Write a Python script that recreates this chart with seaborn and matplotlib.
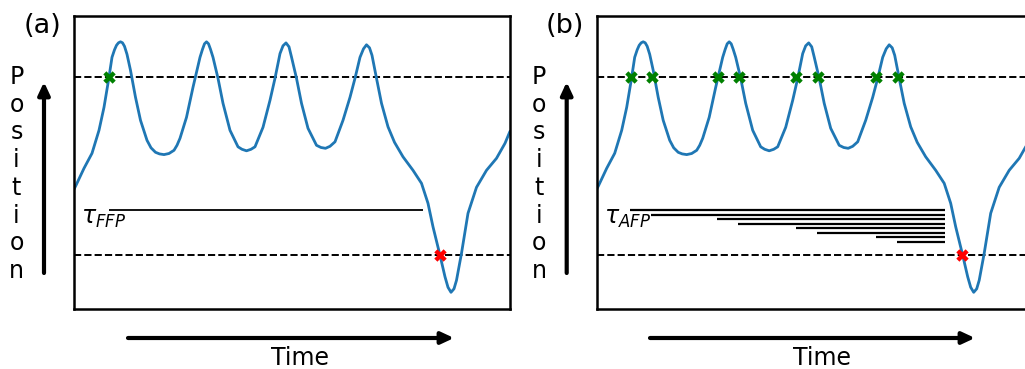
import matplotlib
matplotlib.use("Agg")
import matplotlib.pyplot as plt
import seaborn as sns
import pandas as pd

time = [0, 2, 10, 18, 25, 30, 34.5, 38, 40.5, 42.5, 44.5, 46.5, 48.5, 50.5, 53,
        56.5, 61.5, 66.5, 73, 77, 81.5, 85.5, 90, 95, 100, 103, 106, 112.5, 119,
        126, 128.5, 130.5, 132.5, 134.5, 136.5, 139, 144, 149, 156, 164, 168,
        172.5, 177, 181, 189, 196, 201, 206, 209, 212, 215, 217.5, 222.5, 227.5,
        234, 242.5, 247, 251.5, 256, 261, 269, 276, 281, 286, 289.5, 292.5,
        295.5, 298, 302.5, 307.5, 314, 320.5, 329, 339, 347.5, 354, 359, 366,
        371, 374, 377, 380, 382.5, 387.5, 394, 402.5, 412.5, 422.5, 431, 436]
position = [120, 124, 141, 156, 179, 202, 229, 252, 259.5, 264, 266.5, 267.5,
            266.5, 263, 255, 239, 212, 189, 169, 161.5, 157, 155.4, 154.7, 155.8,
            159, 164, 171, 192, 222, 252, 260, 265.5, 267.5, 265.5, 260, 252, 231,
            206, 179, 162.5, 160, 158.5, 160, 162.5, 182, 209, 231, 255.7, 263.5,
            266.4, 262.5, 252.3, 231, 206, 181, 164, 161.8, 161, 163, 167.5, 189,
            212, 231, 252, 260.5, 264.5, 261.5, 254, 231, 206, 182.5, 167, 152.5,
            139, 126, 106, 82.5, 54, 32.5, 22, 17, 20.5, 29, 56, 96, 122, 139, 151,
            166, 178]

upper_level = 232
lower_level = 54

green_a = [34.7]
green_b = [34.7, 55.7, 121.3, 142.0, 199.7, 221.3, 279.7, 301.3]
red_a = [366.0]
red_b = [365.0]

tau_ffp_start = [35.3]
tau_ffp_end = [349.3]
tau_ffp_level = [99.0]

tau_afp_start = [33.0, 54.7, 120.7, 141.3, 199.0, 220.3, 279.0, 300.7]
tau_afp_end = [348.7] * 8
tau_afp_level = [99.0, 94.7, 90.0, 85.7, 81.0, 76.7, 72.0, 67.7]

panel_labels = ["(a)", "(b)"]
tau_labels = [r"$\tau_{FFP}$", r"$\tau_{AFP}$"]
y_label = "Position"
x_label = "Time"

# ---------------- style ----------------
sns.set_theme(style="white")
plt.rcParams["font.family"] = ["DejaVu Sans"]
plt.rcParams["mathtext.fontset"] = "dejavusans"
plt.rcParams["text.color"] = "black"

W, H = 1025, 369
fig = plt.figure(figsize=(W / 100, H / 100), dpi=100)


def add_ax(left, top, right, bottom):
    return fig.add_axes([left / W, 1 - bottom / H, (right - left) / W, (bottom - top) / H])


ax_a = add_ax(74, 15.7, 510, 309.3)
ax_b = add_ax(596.7, 15.7, 1032.7, 309.3)

curve = pd.DataFrame({"time": time, "position": position})

panels = [
    (ax_a, green_a, red_a, tau_ffp_start, tau_ffp_end, tau_ffp_level, 1.3),
    (ax_b, green_b, red_b, tau_afp_start, tau_afp_end, tau_afp_level, 1.6),
]

for i, (ax, greens, reds, ts, te, tl, tlw) in enumerate(panels):
    sns.lineplot(data=curve, x="time", y="position", ax=ax, color="#1f77b4",
                 lw=2.0, sort=False, zorder=2)
    ax.axhline(upper_level, color="black", ls="--", lw=1.4, zorder=1)
    ax.axhline(lower_level, color="black", ls="--", lw=1.4, zorder=1)
    for s, e, lv in zip(ts, te, tl):
        ax.plot([s, e], [lv, lv], color="black", lw=tlw, solid_capstyle="butt", zorder=1)
    sns.scatterplot(x=greens, y=[upper_level] * len(greens), ax=ax, marker="X",
                    s=80, color="green", linewidth=0, zorder=3)
    sns.scatterplot(x=reds, y=[lower_level] * len(reds), ax=ax, marker="X",
                    s=80, color="red", linewidth=0, zorder=3)
    ax.text(7, 85, tau_labels[i], fontsize=17, ha="left", va="baseline", color="black")
    ax.set_xlim(0, 436)
    ax.set_ylim(0, 293.6)
    ax.set_xticks([])
    ax.set_yticks([])
    ax.set_xlabel("")
    ax.set_ylabel("")
    for sp in ax.spines.values():
        sp.set_color("black")
        sp.set_linewidth(1.8)

# ---------------- annotations (arrows & labels) ----------------
arrow_kw = dict(arrowstyle="-|>,head_length=0.75,head_width=0.35", lw=3.0,
                color="black", shrinkA=0, shrinkB=0)
for vx, hx0, hx1, lab_x, pos_x, time_x, lab in [
    (44, 128, 456, 42.5, 16.5, 300, panel_labels[0]),
    (566.7, 650, 977, 565, 539, 822, panel_labels[1]),
]:
    fig.add_artist(matplotlib.patches.FancyArrowPatch(
        (vx, H - 273), (vx, H - 82), transform=None, mutation_scale=10, **arrow_kw))
    fig.add_artist(matplotlib.patches.FancyArrowPatch(
        (hx0, H - 338), (hx1 - 2, H - 338), transform=None, mutation_scale=10, **arrow_kw))
    fig.text(lab_x / W, 1 - 26 / H, lab, fontsize=19.5, ha="center", va="center",
             color="black")
    fig.text(pos_x / W, 1 - 174 / H, "\n".join(y_label), fontsize=17,
             ha="center", va="center", multialignment="center", linespacing=1.2,
             color="black")
    fig.text(time_x / W, 4 / H, x_label, fontsize=17, ha="center", va="baseline",
             color="black")

fig.savefig("out.png", dpi=100)
